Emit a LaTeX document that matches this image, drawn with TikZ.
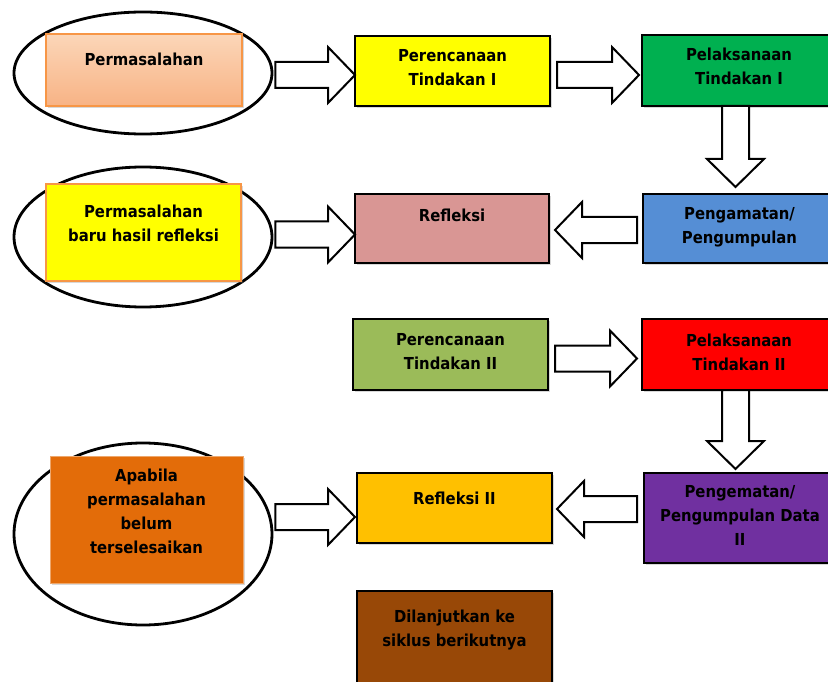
\documentclass[tikz,border=0pt]{standalone}
\usepackage{fontspec}
\setmainfont{DejaVu Sans Condensed}
\usetikzlibrary{shapes.geometric,shadows,calc}
\definecolor{peachT}{HTML}{FBD6B8}
\definecolor{peachB}{HTML}{F8B385}
\definecolor{orbord}{HTML}{F79646}
\definecolor{cyellow}{HTML}{FFFF00}
\definecolor{cgreen}{HTML}{00B050}
\definecolor{cblue}{HTML}{558ED5}
\definecolor{cpink}{HTML}{D99694}
\definecolor{colive}{HTML}{9BBB59}
\definecolor{cred}{HTML}{FF0000}
\definecolor{cpurple}{HTML}{7030A0}
\definecolor{cgold}{HTML}{FFC000}
\definecolor{corange}{HTML}{E36C09}
\definecolor{cbrown}{HTML}{984807}
\tikzset{
  box/.style={draw=black, line width=1.2pt, rectangle, inner sep=0pt, outer sep=0pt,
    drop shadow={shadow xshift=2pt, shadow yshift=-2pt, opacity=0.3, fill=gray}},
  ring/.style={draw=black, line width=2.8pt, ellipse, inner sep=0pt},
  lbl/.style={font=\bfseries\fontsize{16.5}{24}\selectfont, align=center, inner sep=0pt, anchor=north, text=black},
  blockarrow/.style={draw=black, line width=2pt, fill=white, line join=miter}
}
\newcommand{\rarrow}[2]{\draw[blockarrow] let \p1=(#1), \p2=(#2) in
  (\x1,\y2+13pt) -- (\x2-27pt,\y2+13pt) -- (\x2-27pt,\y2+28pt) -- (\x2,\y2)
  -- (\x2-27pt,\y2-28pt) -- (\x2-27pt,\y2-13pt) -- (\x1,\y2-13pt) -- cycle;}
\newcommand{\larrow}[2]{\draw[blockarrow] let \p1=(#1), \p2=(#2) in
  (\x1,\y2+13pt) -- (\x2+27pt,\y2+13pt) -- (\x2+27pt,\y2+28pt) -- (\x2,\y2)
  -- (\x2+27pt,\y2-28pt) -- (\x2+27pt,\y2-13pt) -- (\x1,\y2-13pt) -- cycle;}
\newcommand{\darrow}[2]{\draw[blockarrow] let \p1=(#1), \p2=(#2) in
  (\x1-13.5pt,\y1) -- (\x1-13.5pt,\y2+28pt) -- (\x1-28.5pt,\y2+28pt) -- (\x1,\y2)
  -- (\x1+28.5pt,\y2+28pt) -- (\x1+13.5pt,\y2+28pt) -- (\x1+13.5pt,\y1) -- cycle;}
\begin{document}
\begin{tikzpicture}[x=1pt,y=-1pt]
\useasboundingbox[fill=white] (0,0) rectangle (828,682);
% ellipses
\node[ring, minimum width=258pt, minimum height=122pt] (e1) at (143,73) {};
\node[ring, minimum width=258pt, minimum height=140pt] (e2) at (143,237) {};
\node[ring, minimum width=258pt, minimum height=182pt] (e3) at (143,534) {};
% boxes
\node[box, draw=orbord, top color=peachT, bottom color=peachB, minimum width=196pt, minimum height=72pt] (b1) at (144,70) {};
\node[box, fill=cyellow, minimum width=195pt, minimum height=70pt] (b2) at (452.5,71) {};
\node[box, fill=cgreen, minimum width=194pt, minimum height=71pt] (b3) at (739,70.5) {};
\node[box, fill=cblue, minimum width=193pt, minimum height=69pt] (b4) at (739.5,228.5) {};
\node[box, fill=cpink, minimum width=194pt, minimum height=69pt] (b5) at (452,228.5) {};
\node[box, draw=orbord, fill=cyellow, minimum width=195pt, minimum height=97pt] (b6) at (143.5,232.5) {};
\node[box, fill=colive, minimum width=195pt, minimum height=71pt] (b7) at (450.5,354.5) {};
\node[box, fill=cred, minimum width=194pt, minimum height=71pt] (b8) at (739,354.5) {};
\node[box, fill=cpurple, minimum width=192pt, minimum height=90pt] (b9) at (740,518) {};
\node[box, fill=cgold, minimum width=195pt, minimum height=70pt] (b10) at (454.5,508) {};
\node[box, draw=corange!60!white, line width=0.8pt, fill=corange, minimum width=193pt, minimum height=127pt] (b11) at (146.5,519.5) {};
\node[box, fill=cbrown, minimum width=195pt, minimum height=99pt] (b12) at (454.5,640.5) {};
% labels
\node[lbl] (t1) at ([yshift=-19pt]b1.north) {Permasalahan};
\node[lbl] (t2) at ([yshift=-13pt]b2.north) {Perencanaan\\Tindakan I};
\node[lbl] (t3) at ([yshift=-13pt]b3.north) {Pelaksanaan\\Tindakan I};
\node[lbl] (t4) at ([yshift=-13pt]b4.north) {Pengamatan/\\Pengumpulan};
\node[lbl] (t5) at ([yshift=-15pt]b5.north) {Refleksi};
\node[lbl] (t6) at ([yshift=-21pt]b6.north) {Permasalahan\\baru hasil refleksi};
\node[lbl] (t7) at ([yshift=-14pt]b7.north) {Perencanaan\\Tindakan II};
\node[lbl] (t8) at ([yshift=-15pt]b8.north) {Pelaksanaan\\Tindakan II};
\node[lbl] (t9) at ([yshift=-12pt]b9.north) {Pengematan/\\Pengumpulan Data\\II};
\node[lbl] (t10) at ([yshift=-19pt]b10.north) {Refleksi II};
\node[lbl] (t11) at ([yshift=-13pt]b11.north) {Apabila\\permasalahan\\belum\\terselesaikan};
\node[lbl] (t12) at ([yshift=-19pt]b12.north) {Dilanjutkan ke\\siklus berikutnya};
% block arrows
\rarrow{[xshift=2pt]e1.east}{[yshift=-4pt]b2.west}
\rarrow{[xshift=7pt]b2.east}{[xshift=-3pt,yshift=-4.5pt]b3.west}
\darrow{[xshift=-3.5pt]b3.south}{[yshift=7pt]b4.north}
\larrow{[xshift=-6pt]b4.west}{[xshift=6pt,yshift=-1.5pt]b5.east}
\rarrow{[xshift=2pt]e2.east}{[yshift=-6pt]b5.west}
\rarrow{[xshift=7pt]b7.east}{[xshift=-5pt,yshift=-4pt]b8.west}
\darrow{[xshift=-3.5pt]b8.south}{[yshift=4pt]b9.north}
\larrow{[xshift=-7pt]b9.west}{[xshift=5pt,yshift=-1pt]b10.east}
\rarrow{[xshift=2pt]e3.east}{[xshift=-2pt,yshift=-9pt]b10.west}
\end{tikzpicture}
\end{document}
